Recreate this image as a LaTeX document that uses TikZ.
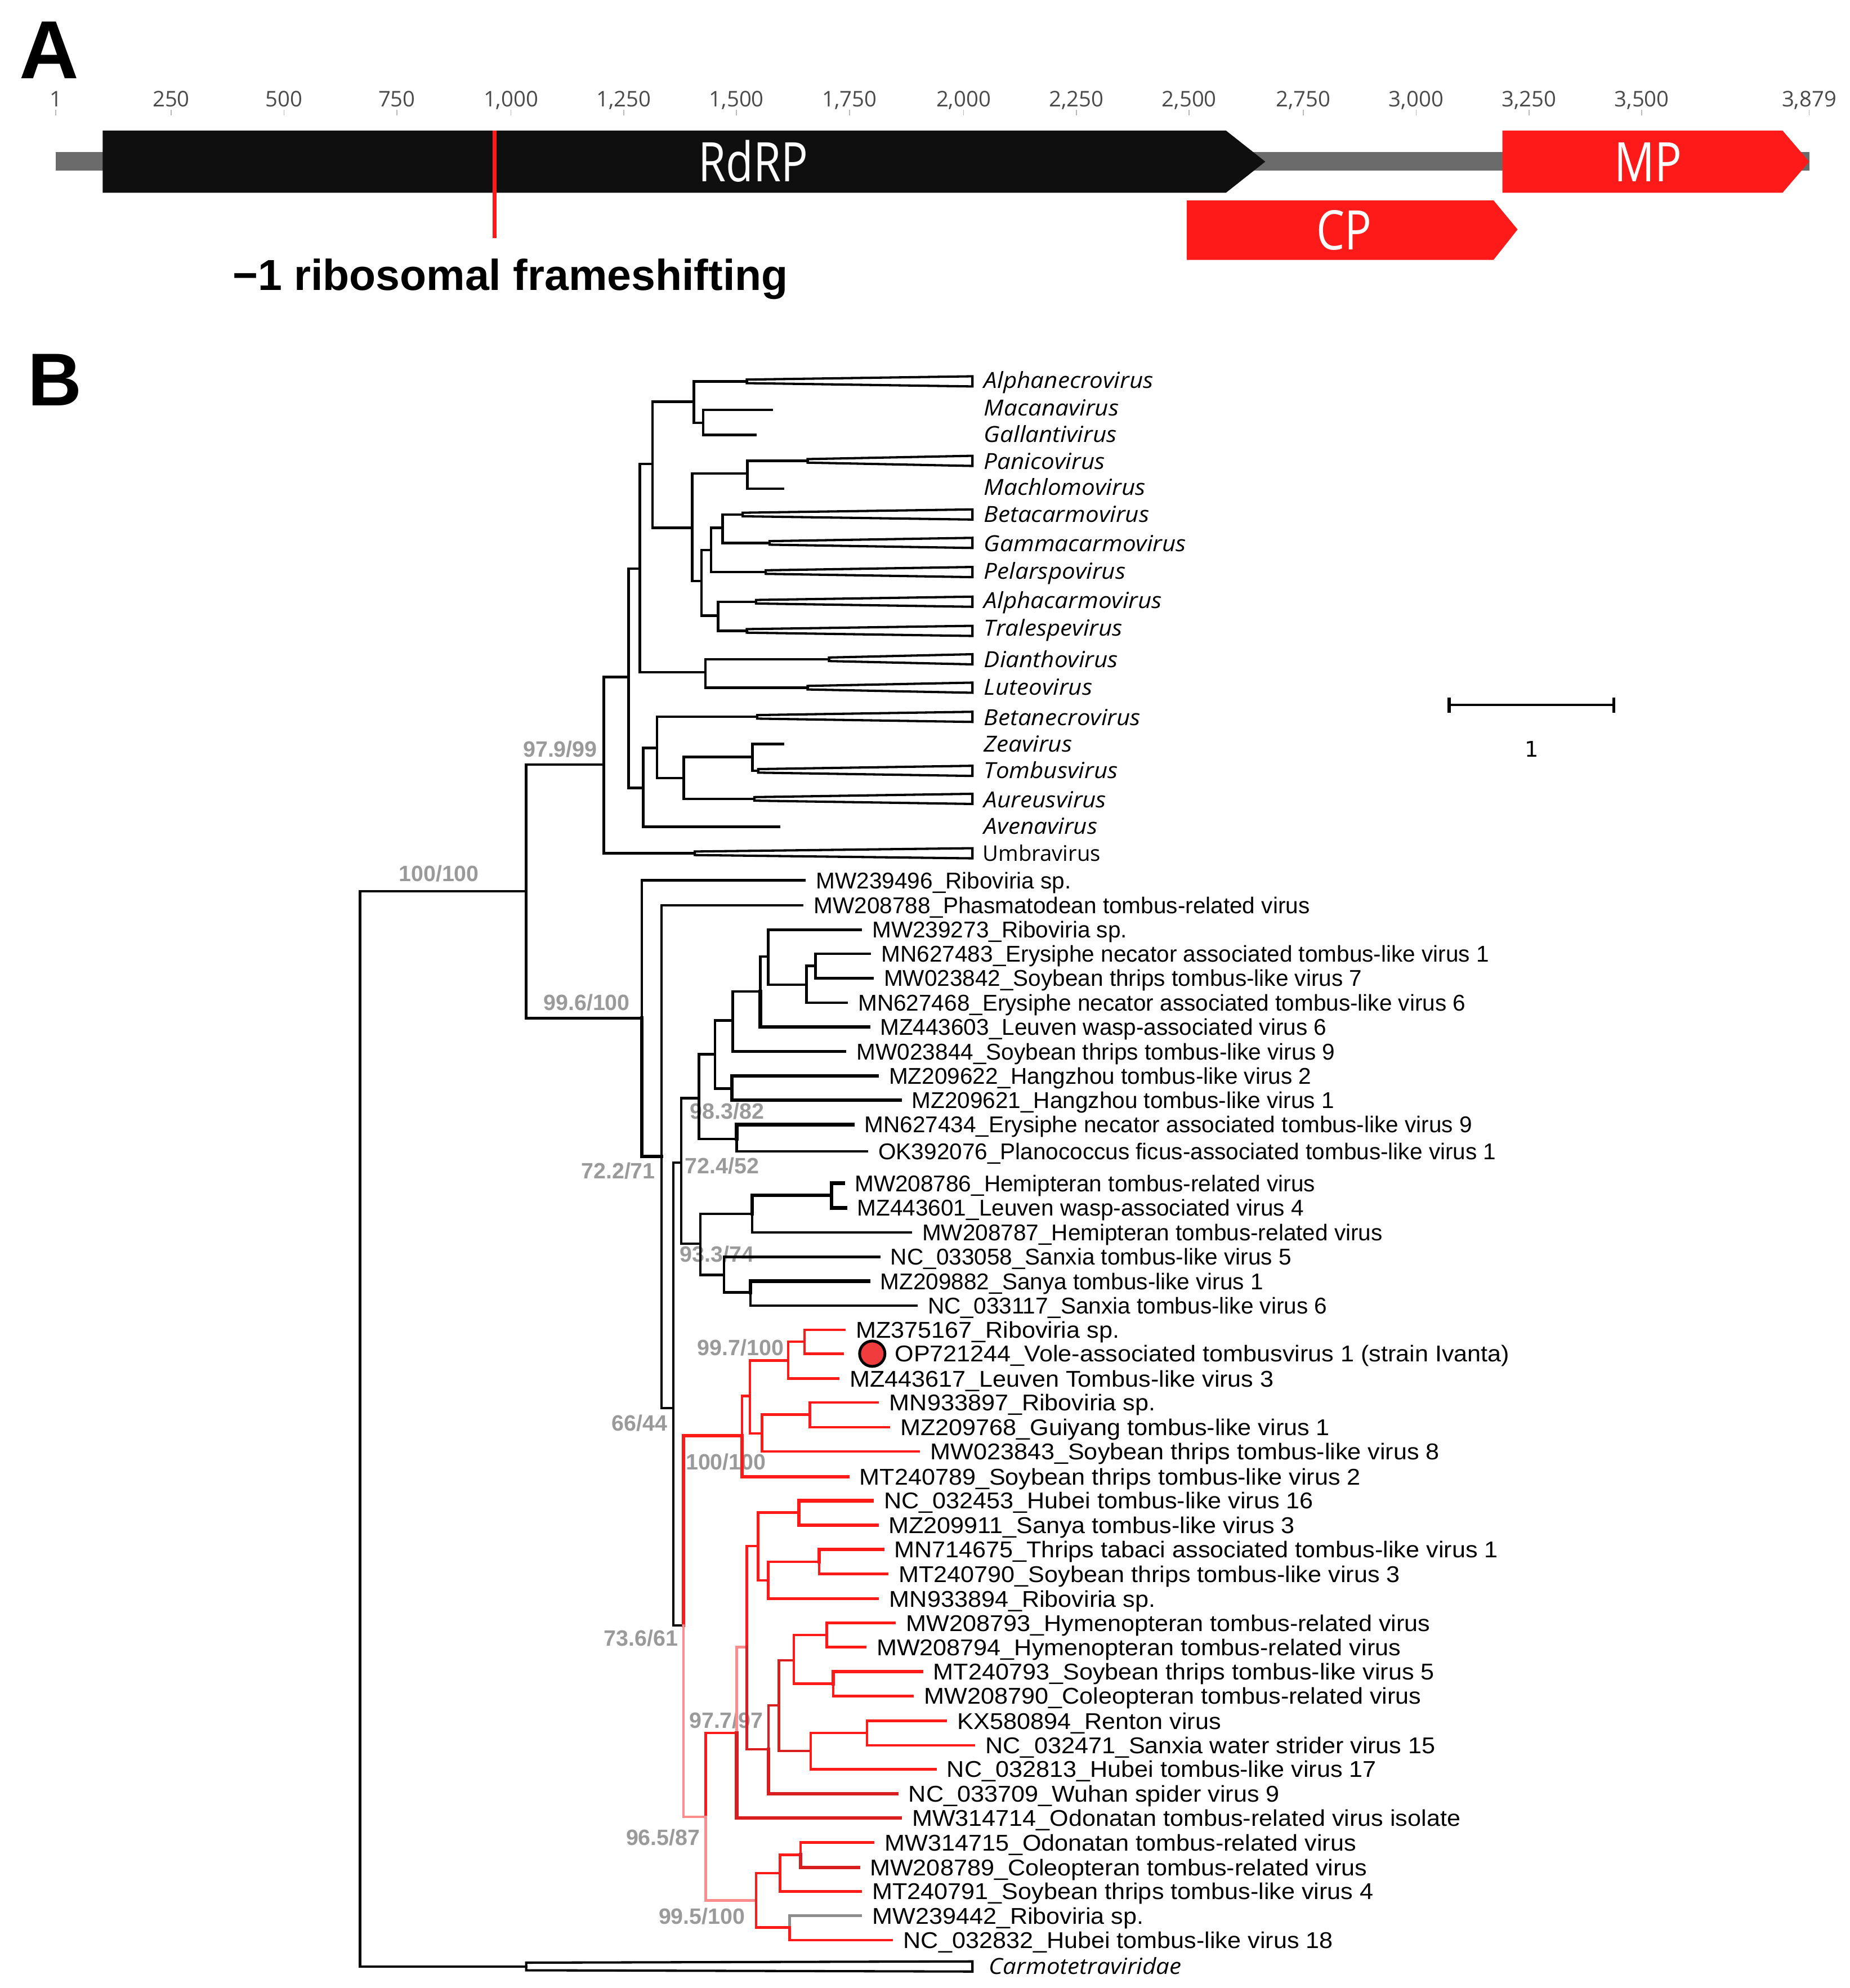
\documentclass[tikz,border=0pt]{standalone}
\usepackage{fontspec}
\setmainfont{Liberation Sans}
\newfontfamily\redtipfont[FakeStretch=1.065]{Liberation Sans}
\newfontfamily\genfont[FakeStretch=1.07]{Open Sans}
\newfontfamily\genomefont[FakeStretch=0.82]{Open Sans}
\newfontfamily\numfont{Open Sans}
\newfontfamily\djfont{DejaVu Sans}
\definecolor{treered}{HTML}{FF1A1A}
\definecolor{darkred}{HTML}{D81E1E}
\definecolor{pinkred}{HTML}{FF8C8C}
\definecolor{bsgray}{HTML}{9A9A9A}
\definecolor{tipgray}{HTML}{8C8C8C}
\definecolor{genomegray}{HTML}{6B6B6B}
\definecolor{rdrpblack}{HTML}{0F0F0F}
\definecolor{numgray}{HTML}{4A4A4A}
\definecolor{geneRed}{HTML}{FF1A1A}
\definecolor{dotred}{HTML}{F03C3C}
\tikzset{
  br/.style={draw=black, line width=2pt, line cap=rect, line join=miter},
  brthick/.style={br, line width=2.8pt},
  rbr/.style={br, draw=treered},
  rbrthick/.style={br, draw=treered, line width=2.8pt},
  dbr/.style={br, draw=darkred},
  dbrthick/.style={br, draw=darkred, line width=2.8pt},
  pbr/.style={br, draw=pinkred},
  gbr/.style={br, draw=tipgray},
  tiplab/.style={anchor=west, inner xsep=9pt, inner ysep=0pt, text height=12.9pt, text depth=0pt, font=\fontsize{18}{20}\selectfont},
  rtiplab/.style={tiplab, font=\redtipfont\fontsize{18}{20}\selectfont},
  genlab/.style={anchor=west, inner sep=0pt, text height=12pt, text depth=0pt, font=\genfont\itshape\fontsize{17.5}{19}\selectfont},
  bslab/.style={anchor=east, inner sep=0pt, text height=12.5pt, text depth=0pt, text=bsgray, font=\bfseries\fontsize{17.5}{19}\selectfont},
  cladewedge/.style={draw=black, fill=white, line width=1.8pt, line join=miter},
  numlab/.style={inner sep=0pt, text height=12.4pt, text depth=0pt, text=numgray, font=\numfont\fontsize{17}{19}\selectfont},
  genelab/.style={inner sep=0pt, text height=31pt, text depth=0pt, text=white, font=\genomefont\fontsize{43}{45}\selectfont},
  panellab/.style={inner sep=0pt, text depth=0pt, font=\bfseries\fontsize{65}{70}\selectfont},
}
\newcommand\tedge[3][br]{\draw[#1] (#2) |- (#3);}
\newcommand\tiplabel[4]{\node[tiplab] (#1) at (#2,#3) {#4};}
\newcommand\rtiplabel[4]{\node[rtiplab] (#1) at (#2,#3) {#4};}
\newcommand\cwedge[2]{\draw[cladewedge] (#1,#2-1.4) -- (767,#2-4) -- (767,#2+4) -- (#1,#2+1.4) -- cycle;}
\begin{document}
\begin{tikzpicture}[x=1pt,y=-1pt]
\useasboundingbox (0,0) rectangle (1459,1568);

% ================= Panel A =================
\node[panellab, text height=46.5pt] (labA) at (39,38.5) {A};

\node[numlab] (n1) at (44,78) {1};
\node[numlab] (n250) at (135,78) {250};
\node[numlab] (n500) at (224,78) {500};
\node[numlab] (n750) at (313,78) {750};
\node[numlab] (n1000) at (403,78) {1,000};
\node[numlab] (n1250) at (492,78) {1,250};
\node[numlab] (n1500) at (581,78) {1,500};
\node[numlab] (n1750) at (670,78) {1,750};
\node[numlab] (n2000) at (760,78) {2,000};
\node[numlab] (n2250) at (849,78) {2,250};
\node[numlab] (n2500) at (938,78) {2,500};
\node[numlab] (n2750) at (1028,78) {2,750};
\node[numlab] (n3000) at (1117,78) {3,000};
\node[numlab] (n3250) at (1206,78) {3,250};
\node[numlab] (n3500) at (1295,78) {3,500};
\node[numlab] (n3879) at (1427,78) {3,879};
\foreach \x in {44,135,224,313,403,492,581,670,760,849,938,1028,1117,1206,1295,1427}
  \draw[gray!55, line width=0.8pt] (\x,86.5) -- (\x,91);

% genome line
\fill[genomegray] (44,120) rectangle (1427,134.5);
% RdRP
\fill[rdrpblack] (81,103) -- (967,103) -- (998,127.5) -- (967,152) -- (81,152) -- cycle;
% MP
\fill[geneRed] (1185,103) -- (1406,103) -- (1427,127.5) -- (1406,152) -- (1185,152) -- cycle;
% CP
\fill[geneRed] (936,158) -- (1178,158) -- (1197,181) -- (1178,205) -- (936,205) -- cycle;
% frameshift marker
\coordinate (fsTop) at (390,103);
\coordinate (fsBot) at (390,188);
\draw[treered, line width=3pt] (fsTop) -- (fsBot);

\node[genelab] (rdrp) at (594,127.5) {RdRP};
\node[genelab] (mp) at (1300,127.5) {MP};
\node[genelab] (cp) at (1060,181.5) {CP};
\node[anchor=base, inner sep=0pt, font=\bfseries\fontsize{34.2}{36}\selectfont] (fslab) at (402.5,229) {−1 ribosomal frameshifting};

% ================= Panel B =================
\node[panellab, text height=42pt, font=\bfseries\fontsize{59}{62}\selectfont] (labB) at (43.5,299) {B};

% scale bar
\coordinate (sbL) at (1143,556);
\coordinate (sbR) at (1273,556);
\draw[line width=2pt] (sbL) -- (sbR);
\draw[line width=2.4pt] (1143,550) -- (1143,562);
\draw[line width=2.4pt] (1273,550) -- (1273,562);
\node[inner sep=0pt, font=\djfont\fontsize{17}{19}\selectfont, text height=12.5pt, text depth=0pt] (sblab) at (1208,591) {1};

% bootstrap labels (behind branches)
\node[bslab] (bs1) at (471.2,591) {97.9/99};
\node[bslab] (bs2) at (378,689) {100/100};
\node[bslab] (bs3) at (497,790.7) {99.6/100};
\node[bslab] (bs4) at (517,923.3) {72.2/71};
\node[bslab] (bs5) at (602.8,876.4) {98.3/82};
\node[bslab] (bs6) at (599,919.4) {72.4/52};
\node[bslab] (bs7) at (595,989) {93.3/74};
\node[bslab] (bs8) at (618.4,1062.9) {99.7/100};
\node[bslab] (bs9) at (526.5,1122.4) {66/44};
\node[bslab] (bs10) at (604.4,1153.1) {100/100};
\node[bslab] (bs11) at (535,1291.9) {73.6/61};
\node[bslab] (bs12) at (602.2,1356.9) {97.7/97};
\node[bslab] (bs13) at (552.4,1449) {96.5/87};
\node[bslab] (bs14) at (587.9,1511.5) {99.5/100};

% ---- internal nodes (upper part) ----
\coordinate (root) at (284,703);
\coordinate (nA1) at (415,703);
\coordinate (nG) at (476.2,603);
\coordinate (nG1) at (495.7,534);
\coordinate (nG2) at (504.7,448.6);
\coordinate (nG4) at (514.7,365.8);
\coordinate (nAlp) at (547.3,316.8);
\coordinate (nMac) at (554.6,333.4);
\coordinate (nPan) at (546,416.3);
\coordinate (nPM) at (589.5,373.4);
\coordinate (nCar) at (553.2,458.3);
\coordinate (nCarA) at (560.9,433.9);
\coordinate (nBG) at (570,416.3);
\coordinate (nCarB) at (566.4,485.6);
\coordinate (nDL) at (556.4,530.2);
\coordinate (nG3) at (507.4,621.5);
\coordinate (nG5) at (518.3,590);
\coordinate (nG6) at (539.2,613.8);
\coordinate (nZT) at (593.5,597);

% wedge apexes and short tips
\coordinate (wAlphanecro) at (589,300.8);
\coordinate (wPanico) at (637,363.5);
\coordinate (wBetacarmo) at (585.8,405.8);
\coordinate (wGammacarmo) at (607,428.2);
\coordinate (wPelarspo) at (604,451.2);
\coordinate (wAlphacarmo) at (596.3,474.6);
\coordinate (wTralespe) at (589,497.6);
\coordinate (wDiantho) at (653.8,520);
\coordinate (wLuteo) at (637,542.4);
\coordinate (wBetanecro) at (597.2,565.4);
\coordinate (wTombus) at (598,608);
\coordinate (wAureus) at (595,630.1);
\coordinate (wUmbra) at (548,673);
\coordinate (wCarmo) at (415,1551);
\coordinate (tMacana) at (608.5,323.2);
\coordinate (tGallanti) at (595.8,343.1);
\coordinate (tMachlomo) at (617.5,385.4);
\coordinate (tZea) at (617.5,586.8);
\coordinate (tAvena) at (614.4,652);

% wedges
\cwedge{589}{300.8}
\cwedge{637}{363.5}
\cwedge{585.8}{405.8}
\cwedge{607}{428.2}
\cwedge{604}{451.2}
\cwedge{596.3}{474.6}
\cwedge{589}{497.6}
\cwedge{653.8}{520}
\cwedge{637}{542.4}
\cwedge{597.2}{565.4}
\cwedge{598}{608}
\cwedge{595}{630.1}
\cwedge{548}{673}
\draw[cladewedge] (415,1548) -- (767,1547) -- (767,1555) -- (415,1554) -- cycle;

% genus labels
\node[genlab] (gAlphanecro) at (776,300) {Alphanecrovirus};
\node[genlab] (gMacana) at (776,322) {Macanavirus};
\node[genlab] (gGallanti) at (776,343) {Gallantivirus};
\node[genlab] (gPanico) at (776,364) {Panicovirus};
\node[genlab] (gMachlomo) at (776,384.5) {Machlomovirus};
\node[genlab] (gBetacarmo) at (776,406) {Betacarmovirus};
\node[genlab] (gGammacarmo) at (776,429) {Gammacarmovirus};
\node[genlab] (gPelarspo) at (776,450.5) {Pelarspovirus};
\node[genlab] (gAlphacarmo) at (776,474) {Alphacarmovirus};
\node[genlab] (gTralespe) at (776,495.5) {Tralespevirus};
\node[genlab] (gDiantho) at (776,520.5) {Dianthovirus};
\node[genlab] (gLuteo) at (776,542) {Luteovirus};
\node[genlab] (gBetanecro) at (776,566) {Betanecrovirus};
\node[genlab] (gZea) at (776,587) {Zeavirus};
\node[genlab] (gTombus) at (776,608) {Tombusvirus};
\node[genlab] (gAureus) at (776,631) {Aureusvirus};
\node[genlab] (gAvena) at (776,652) {Avenavirus};
\node[genlab, font=\numfont\fontsize{17}{19}\selectfont] (gUmbra) at (775,673) {Umbravirus};
\node[genlab] (gCarmo) at (780,1551) {Carmotetraviridae};

% upper edges
\tedge{root}{nA1}
\tedge{root}{wCarmo}
\tedge{nA1}{nG}
\tedge{nG}{nG1}
\tedge{nG}{wUmbra}
\tedge{nG1}{nG2}
\tedge{nG1}{nG3}
\tedge{nG2}{nG4}
\tedge{nG2}{nDL}
\tedge{nG4}{nAlp}
\tedge{nG4}{nPan}
\tedge{nAlp}{wAlphanecro}
\tedge{nAlp}{nMac}
\tedge{nMac}{tMacana}
\tedge{nMac}{tGallanti}
\tedge{nPan}{nPM}
\tedge{nPan}{nCar}
\tedge{nPM}{wPanico}
\tedge{nPM}{tMachlomo}
\tedge{nCar}{nCarA}
\tedge{nCar}{nCarB}
\tedge{nCarA}{nBG}
\tedge{nCarA}{wPelarspo}
\tedge{nBG}{wBetacarmo}
\tedge{nBG}{wGammacarmo}
\tedge{nCarB}{wAlphacarmo}
\tedge{nCarB}{wTralespe}
\tedge{nDL}{wDiantho}
\tedge{nDL}{wLuteo}
\tedge{nG3}{nG5}
\tedge{nG3}{tAvena}
\tedge{nG5}{wBetanecro}
\tedge{nG5}{nG6}
\tedge{nG6}{nZT}
\tedge{nG6}{wAureus}
\tedge{nZT}{tZea}
\tedge{nZT}{wTombus}

% ---- internal nodes (lower part) ----
\coordinate (nT) at (506.3,803);
\coordinate (nA) at (521.8,912);
\coordinate (nB) at (531.2,1110.5);
\coordinate (nC) at (537.4,917);
\coordinate (nD) at (551.4,866.2);
\coordinate (nDa) at (563.9,831.5);
\coordinate (nDb) at (581,898.4);
\coordinate (nDc) at (577.9,804.8);
\coordinate (nHz) at (577.3,858.7);
\coordinate (nDd) at (599.7,782.1);
\coordinate (nDe) at (605.9,754.5);
\coordinate (nDf) at (636.2,776.7);
\coordinate (nDg) at (643.3,761.7);
\coordinate (nE) at (552.4,981);
\coordinate (nEa) at (593.2,957.3);
\coordinate (nEb) at (571.1,1005.6);
\coordinate (nEc) at (655.8,942.6);
\coordinate (nEd) at (592,1019.3);
\coordinate (nR) at (539,1282);
\coordinate (nF) at (585.2,1132.5);
\coordinate (nGa) at (591.5,1101);
\coordinate (nH) at (621.6,1073);
\coordinate (nHa) at (634.5,1058.2);
\coordinate (nGb) at (601.1,1130.5);
\coordinate (nGc) at (638.7,1115.6);
\coordinate (nI) at (556.7,1433);
\coordinate (nJ) at (581,1366.9);
\coordinate (nK) at (589.1,1299);
\coordinate (nL) at (598,1219.5);
\coordinate (nLa) at (630,1193);
\coordinate (nLb) at (606,1246.5);
\coordinate (nLc) at (646,1231.8);
\coordinate (nM) at (606.1,1379.8);
\coordinate (nN) at (614.3,1345);
\coordinate (nO) at (626.1,1309.5);
\coordinate (nOa) at (652,1289.6);
\coordinate (nOb) at (657.3,1328);
\coordinate (nP) at (639.5,1381);
\coordinate (nPa) at (683.8,1366.8);
\coordinate (nQ) at (596.3,1499);
\coordinate (nQa) at (615.3,1477.4);
\coordinate (nQb) at (622.8,1520.2);
\coordinate (nQc) at (631.5,1463);

% ---- tip labels ----
\tiplabel{tMWa}{634.6}{694.4}{MW239496\_Riboviria sp.}
\tiplabel{tMWb}{632.7}{714.1}{MW208788\_Phasmatodean tombus-related virus}
\tiplabel{tMWc}{678.8}{733.3}{MW239273\_Riboviria sp.}
\tiplabel{tMNa}{686.1}{752.2}{MN627483\_Erysiphe necator associated tombus-like virus 1}
\tiplabel{tMWd}{688}{771.5}{MW023842\_Soybean thrips tombus-like virus 7}
\tiplabel{tMNb}{667.7}{790.9}{MN627468\_Erysiphe necator associated tombus-like virus 6}
\tiplabel{tMZa}{685}{810}{MZ443603\_Leuven wasp-associated virus 6}
\tiplabel{tMWe}{666.6}{829.3}{MW023844\_Soybean thrips tombus-like virus 9}
\tiplabel{tMZb}{692}{848.5}{MZ209622\_Hangzhou tombus-like virus 2}
\tiplabel{tMZc}{710}{867.8}{MZ209621\_Hangzhou tombus-like virus 1}
\tiplabel{tMNc}{672.7}{887}{MN627434\_Erysiphe necator associated tombus-like virus 9}
\tiplabel{tOK}{683.7}{908}{OK392076\_Planococcus ficus-associated tombus-like virus 1}
\tiplabel{tMWf}{665}{933.2}{MW208786\_Hemipteran tombus-related virus}
\tiplabel{tMZd}{667}{952.7}{MZ443601\_Leuven wasp-associated virus 4}
\tiplabel{tMWg}{718.2}{972}{MW208787\_Hemipteran tombus-related virus}
\tiplabel{tNCa}{693.3}{991.3}{NC\_033058\_Sanxia tombus-like virus 5}
\tiplabel{tMZe}{685.2}{1010.5}{MZ209882\_Sanya tombus-like virus 1}
\tiplabel{tNCb}{722.8}{1029.8}{NC\_033117\_Sanxia tombus-like virus 6}
\rtiplabel{tMZf}{665.9}{1048.8}{MZ375167\_Riboviria sp.}
\coordinate (opend) at (664.5,1067.7);
\node[circle, draw=black, fill=dotred, line width=2.2pt, minimum size=20pt, inner sep=0pt] (opdot) at (688,1067.7) {};
\node[rtiplab, inner xsep=0pt] (tOP) at (705.6,1067.7) {OP721244\_Vole-associated tombusvirus 1 (strain Ivanta)};
\rtiplabel{tMZg}{661}{1087.3}{MZ443617\_Leuven Tombus-like virus 3}
\rtiplabel{tMNd}{692.4}{1106.2}{MN933897\_Riboviria sp.}
\rtiplabel{tMZh}{700.9}{1125.6}{MZ209768\_Guiyang tombus-like virus 1}
\rtiplabel{tMWh}{724.6}{1144.8}{MW023843\_Soybean thrips tombus-like virus 8}
\rtiplabel{tMTa}{668.8}{1164.8}{MT240789\_Soybean thrips tombus-like virus 2}
\rtiplabel{tNCc}{688}{1183.6}{NC\_032453\_Hubei tombus-like virus 16}
\rtiplabel{tMZi}{691.7}{1203}{MZ209911\_Sanya tombus-like virus 3}
\rtiplabel{tMNe}{696.1}{1222.2}{MN714675\_Thrips tabaci associated tombus-like virus 1}
\rtiplabel{tMTb}{699.8}{1241.4}{MT240790\_Soybean thrips tombus-like virus 3}
\rtiplabel{tMNf}{692.4}{1261}{MN933894\_Riboviria sp.}
\rtiplabel{tMWi}{705.6}{1280}{MW208793\_Hymenopteran tombus-related virus}
\rtiplabel{tMWj}{682.3}{1299.2}{MW208794\_Hymenopteran tombus-related virus}
\rtiplabel{tMTc}{727}{1318.3}{MT240793\_Soybean thrips tombus-like virus 5}
\rtiplabel{tMWk}{719.8}{1337.7}{MW208790\_Coleopteran tombus-related virus}
\rtiplabel{tKX}{746.1}{1357.3}{KX580894\_Renton virus}
\rtiplabel{tNCd}{768.2}{1376.5}{NC\_032471\_Sanxia water strider virus 15}
\rtiplabel{tNCe}{737.7}{1395.4}{NC\_032813\_Hubei tombus-like virus 17}
\rtiplabel{tNCf}{707.5}{1414.7}{NC\_033709\_Wuhan spider virus 9}
\rtiplabel{tMWl}{710.2}{1433.8}{MW314714\_Odonatan tombus-related virus isolate}
\rtiplabel{tMWm}{688.6}{1453.3}{MW314715\_Odonatan tombus-related virus}
\rtiplabel{tMWn}{677}{1472.8}{MW208789\_Coleopteran tombus-related virus}
\rtiplabel{tMTd}{678.8}{1491.8}{MT240791\_Soybean thrips tombus-like virus 4}
\rtiplabel{tMWo}{678.8}{1511}{MW239442\_Riboviria sp.}
\rtiplabel{tNCg}{703.4}{1530.2}{NC\_032832\_Hubei tombus-like virus 18}

% ---- lower edges (black) ----
\tedge{nA1}{nT}
\tedge{nT}{tMWa.west}
\tedge[brthick]{nT}{nA}
\tedge{nA}{tMWb.west}
\tedge{nA}{nB}
\tedge{nB}{nC}
\tedge{nB}{nR}
\tedge{nC}{nD}
\tedge{nC}{nE}
\tedge{nD}{nDa}
\tedge{nD}{nDb}
\tedge[brthick]{nDb}{tMNc.west}
\tedge{nDb}{tOK.west}
\tedge{nDa}{nDc}
\tedge{nDa}{nHz}
\tedge[brthick]{nHz}{tMZb.west}
\tedge[brthick]{nHz}{tMZc.west}
\tedge{nDc}{nDd}
\tedge{nDc}{tMWe.west}
\tedge{nDd}{nDe}
\tedge[brthick]{nDd}{tMZa.west}
\tedge{nDe}{tMWc.west}
\tedge{nDe}{nDf}
\tedge{nDf}{nDg}
\tedge{nDf}{tMNb.west}
\tedge{nDg}{tMNa.west}
\tedge{nDg}{tMWd.west}
\tedge{nE}{nEa}
\tedge{nE}{nEb}
\tedge[brthick]{nEa}{nEc}
\tedge{nEa}{tMWg.west}
\tedge[brthick]{nEc}{tMWf.west}
\tedge[brthick]{nEc}{tMZd.west}
\tedge{nEb}{tNCa.west}
\tedge{nEb}{nEd}
\tedge[brthick]{nEd}{tMZe.west}
\tedge{nEd}{tNCb.west}

% ---- red clade ----
\tedge[rbrthick]{nR}{nF}
\tedge[pbr]{nR}{nI}
\tedge[rbr]{nF}{nGa}
\tedge[rbrthick]{nF}{tMTa.west}
\tedge[rbr]{nGa}{nH}
\tedge[rbr]{nGa}{nGb}
\tedge[rbr]{nH}{nHa}
\tedge[rbr]{nH}{tMZg.west}
\tedge[rbr]{nHa}{tMZf.west}
\tedge[rbr]{nHa}{opend}
\tedge[rbr]{nGb}{nGc}
\tedge[rbr]{nGb}{tMWh.west}
\tedge[rbr]{nGc}{tMNd.west}
\tedge[rbr]{nGc}{tMZh.west}
\tedge[rbr]{nI}{nJ}
\tedge[pbr]{nI}{nQ}
\tedge[pbr]{nJ}{nK}
\tedge[dbrthick]{nJ}{tMWl.west}
\tedge[rbr]{nK}{nL}
\tedge[dbr]{nK}{nM}
\tedge[rbr]{nL}{nLa}
\tedge[rbr]{nL}{nLb}
\tedge[rbrthick]{nLa}{tNCc.west}
\tedge[rbrthick]{nLa}{tMZi.west}
\tedge[rbr]{nLb}{nLc}
\tedge[rbr]{nLb}{tMNf.west}
\tedge[rbrthick]{nLc}{tMNe.west}
\tedge[rbr]{nLc}{tMTb.west}
\tedge[dbr]{nM}{nN}
\tedge[dbrthick]{nM}{tNCf.west}
\tedge[dbr]{nN}{nO}
\tedge[dbr]{nN}{nP}
\tedge[rbr]{nO}{nOa}
\tedge[rbr]{nO}{nOb}
\tedge[rbr]{nOa}{tMWi.west}
\tedge[rbr]{nOa}{tMWj.west}
\tedge[rbrthick]{nOb}{tMTc.west}
\tedge[rbr]{nOb}{tMWk.west}
\tedge[rbr]{nP}{nPa}
\tedge[rbr]{nP}{tNCe.west}
\tedge[rbr]{nPa}{tKX.west}
\tedge[rbr]{nPa}{tNCd.west}
\tedge[rbr]{nQ}{nQa}
\tedge[rbr]{nQ}{nQb}
\tedge[rbr]{nQa}{nQc}
\tedge[rbr]{nQa}{tMTd.west}
\tedge[rbr]{nQc}{tMWm.west}
\tedge[dbrthick]{nQc}{tMWn.west}
\tedge[gbr]{nQb}{tMWo.west}
\tedge[rbr]{nQb}{tNCg.west}
\end{tikzpicture}
\end{document}
